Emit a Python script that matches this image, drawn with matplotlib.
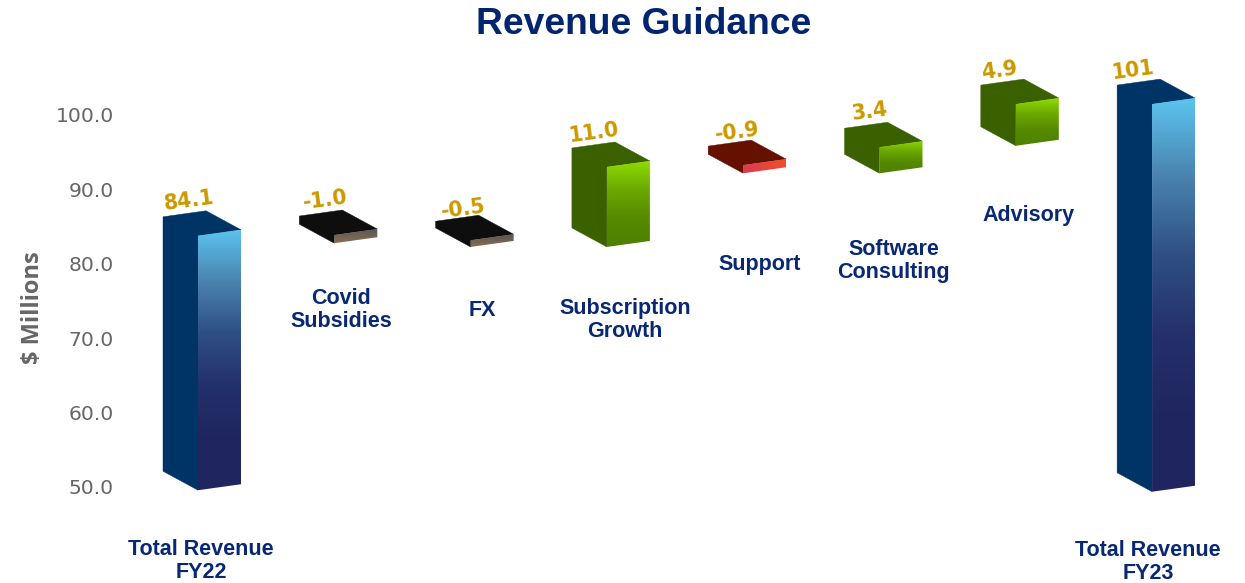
import numpy as np
import matplotlib
matplotlib.use('Agg')
import matplotlib.pyplot as plt
from matplotlib.colors import LinearSegmentedColormap
from matplotlib.patches import Polygon
from matplotlib.transforms import ScaledTranslation

# values
categories = ['Total Revenue\nFY22', 'Covid\nSubsidies', 'FX', 'Subscription\nGrowth',
              'Support', 'Software\nConsulting', 'Advisory', 'Total Revenue\nFY23']
value_labels = ['84.1', '-1.0', '-0.5', '11.0', '-0.9', '3.4', '4.9', '101']
bar_tops = [83.9, 84.0, 83.3, 93.15, 93.4, 95.8, 101.6, 101.6]
bar_bottoms = [49.7, 82.9, 82.4, 82.4, 92.3, 92.3, 96.0, 49.5]
bar_kinds = ['total', 'black', 'black', 'up', 'down', 'up', 'up', 'total']
yticks = [50, 60, 70, 80, 90, 100]

# layout, in pixels from the front corner of each bar
value_dx = [-9, -9, -7, -13, -6, -10, -16, -19]
value_dy = [35, 35, 31, 34, 33, 36, 33, 34]
cat_dx = [3, 7, 12, 18, 16, 14, 13, -4]
cat_dy = [-71, -67, -64, -73, -91, -88, -70, -70]

W, H = 1245, 583
AX_LEFT = 125
PX_PER_UNIT = 7.44
PX_PER_STEP = 136.3

GOLD = '#CC9900'
NAVY = '#082873'
GREY = '#666666'

# body colour, gradient stops of the right face, gradient direction
styles = {
    'total': ('#003466', ['#5CC4EF', '#4A82AE', '#2F4F82', '#24306A', '#20265F', '#1F2560'], 'v'),
    'up': ('#3A6000', ['#8FDC00', '#6BA800', '#568A00', '#4E8000'], 'v'),
    'black': ('#0E0E0E', ['#555555', '#8B6F50'], 'v'),
    'down': ('#661000', ['#D93B50', '#F0502A'], 'h'),
}

fig = plt.figure(figsize=(W / 100, H / 100), dpi=100)
ax = fig.add_axes([AX_LEFT / W, 0, 1 - AX_LEFT / W, 1])

# 100 sits at y=116 px, 50 at y=488 px
ylim = (100 - (H - 116) / PX_PER_UNIT, 100 + 116 / PX_PER_UNIT)
# first bar front corner at x=198 px
xlim = ((AX_LEFT - 198) / PX_PER_STEP, (W - 198) / PX_PER_STEP)

# projection of the bar depth and width
back_x = 35 / PX_PER_STEP
back_y = 19 / PX_PER_UNIT
side_x = 43 / PX_PER_STEP
side_y = 6 / PX_PER_UNIT

for i, (top, bottom, kind) in enumerate(zip(bar_tops, bar_bottoms, bar_kinds)):
    body_col, stops, direction = styles[kind]

    # left and top faces share one colour, so they are one outline
    body = [(i - back_x, bottom + back_y), (i - back_x, top + back_y),
            (i - back_x + side_x, top + back_y + side_y), (i + side_x, top + side_y),
            (i, top), (i, bottom)]
    right_face = [(i, top), (i + side_x, top + side_y), (i + side_x, bottom + side_y), (i, bottom)]

    ax.add_patch(Polygon(body, closed=True, facecolor=body_col, edgecolor=body_col, lw=0.3, zorder=2))

    cmap = LinearSegmentedColormap.from_list('face' + str(i), stops)
    grad = np.linspace(0, 1, 256)
    grad = grad.reshape(-1, 1) if direction == 'v' else grad.reshape(1, -1)
    im = ax.imshow(grad, cmap=cmap, aspect='auto', origin='upper', zorder=3, interpolation='bilinear',
                   extent=(i, i + side_x, bottom, top + side_y))
    clip = Polygon(right_face, closed=True, transform=ax.transData, facecolor='none', edgecolor='none')
    ax.add_patch(clip)
    im.set_clip_path(clip)

    ax.annotate(value_labels[i], xy=(i, top), xytext=(value_dx[i], value_dy[i]), textcoords='offset pixels',
                ha='center', va='center', rotation=7.5, rotation_mode='anchor', color=GOLD,
                fontsize=14.8, fontweight='bold', family='DejaVu Sans', zorder=5)
    ax.annotate(categories[i], xy=(i, bottom), xytext=(cat_dx[i], cat_dy[i]), textcoords='offset pixels',
                ha='center', va='center', color=NAVY, fontsize=15.5, fontweight='bold',
                family='Liberation Sans', linespacing=1.12, annotation_clip=False, zorder=5)

ax.set_xlim(xlim)
ax.set_ylim(ylim)
ax.set_xticks([])
ax.set_yticks(yticks)
ax.set_yticklabels(['%.1f' % t for t in yticks], fontsize=14.6, color=GREY, family='DejaVu Sans')
ax.tick_params(axis='y', length=0, pad=8)
# tick text sits one pixel higher than its value
for label in ax.get_yticklabels():
    label.set_transform(label.get_transform() + ScaledTranslation(0, 1 / 100, fig.dpi_scale_trans))
for s in ax.spines.values():
    s.set_visible(False)
ax.patch.set_alpha(0)

fig.text(33 / W, 1 - 308 / H, '$ Millions', rotation=90, ha='center', va='center', color='#666666',
         fontsize=17, fontweight='bold', family='Open Sans')
fig.text(644 / W, 1 - 25 / H, 'Revenue Guidance', ha='center', va='center', color='#03246F',
         fontsize=26.8, fontweight='bold', family='Liberation Sans')

fig.savefig('out.png', dpi=100)
